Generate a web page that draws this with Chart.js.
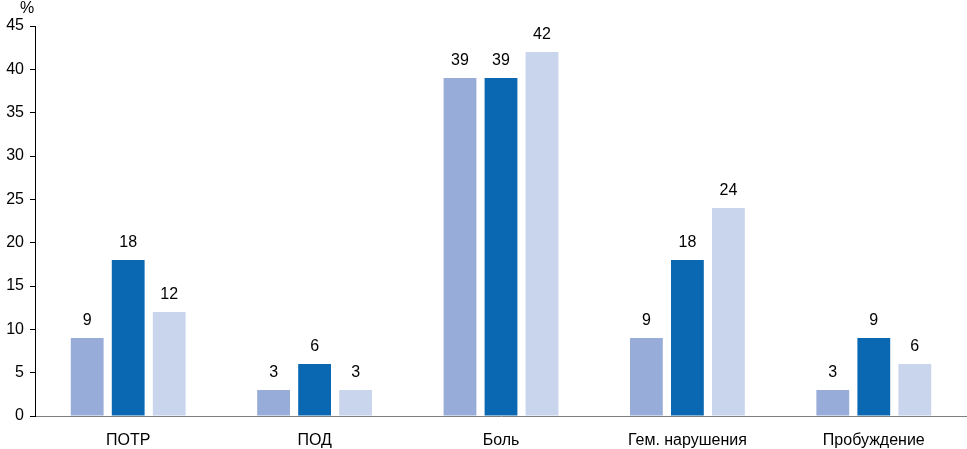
<!DOCTYPE html>
<html>
<head>
<meta charset="utf-8">
<script src="https://cdn.jsdelivr.net/npm/chart.js@4/dist/chart.umd.min.js"></script>
<style>
html,body{margin:0;padding:0;background:#fff;}
#wrap{width:967px;height:449px;position:relative;}
</style>
</head>
<body>
<div id="wrap"><canvas id="chart"></canvas></div>
<script>
var categories = ['ПОТР', 'ПОД', 'Боль', 'Гем. нарушения', 'Пробуждение'];
var series1 = [9, 3, 39, 9, 3];
var series2 = [18, 6, 39, 18, 9];
var series3 = [12, 3, 42, 24, 6];
var colors = ['#97acd8', '#0a68b2', '#c9d4ed'];
var font = 'Liberation Sans, Arial, sans-serif';

// value labels above the bars
var barLabels = {
    id: 'barLabels',
    afterDatasetsDraw: function(chart) {
        var c = chart.ctx;
        c.save();
        c.font = '16px ' + font;
        c.fillStyle = '#000';
        c.textAlign = 'center';
        c.textBaseline = 'middle';
        chart.data.datasets.forEach(function(ds, i) {
            chart.getDatasetMeta(i).data.forEach(function(bar, j) {
                c.fillText(ds.data[j], bar.x, bar.y - 17);
            });
        });
        // % sign over the y axis
        c.fillText('%', 27, 9);
        c.restore();
    }
};

var ctx = document.getElementById('chart').getContext('2d');
var chart = new Chart(ctx, {
    type: 'bar',
    data: {
        labels: categories,
        datasets: [
            {data: series1, backgroundColor: colors[0]},
            {data: series2, backgroundColor: colors[1]},
            {data: series3, backgroundColor: colors[2]}
        ]
    },
    options: {
        responsive: true,
        maintainAspectRatio: false,
        animation: false,
        layout: {padding: {top: 26, right: 0, left: 0, bottom: 0}},
        datasets: {bar: {categoryPercentage: 0.66, barPercentage: 0.8}},
        plugins: {legend: {display: false}, tooltip: {enabled: false}},
        scales: {
            x: {
                grid: {drawOnChartArea: false, drawTicks: false},
                border: {color: '#7f7f7f', width: 1},
                ticks: {color: '#000', font: {family: font, size: 16}, padding: 15, maxRotation: 0},
                afterFit: function(s) { s.height = 33; }
            },
            y: {
                min: 0,
                max: 45,
                ticks: {stepSize: 5, color: '#000', font: {family: font, size: 16}, padding: 6},
                grid: {drawOnChartArea: false, drawTicks: true, tickLength: 5, color: '#000'},
                border: {color: '#000', width: 1},
                afterFit: function(s) { s.width = 35; }
            }
        }
    },
    plugins: [barLabels]
});
</script>
</body>
</html>
